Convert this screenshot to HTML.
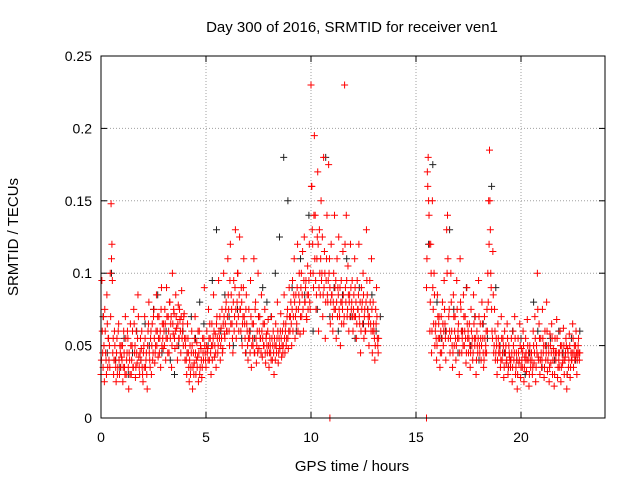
<!DOCTYPE html>
<html><head><meta charset="utf-8"><style>
body{margin:0;background:#fff}
svg{display:block}
text{font-family:"Liberation Sans",sans-serif;fill:#000}
</style></head><body>
<svg id="chart" width="640" height="480" xmlns="http://www.w3.org/2000/svg">
<text x="352" y="32" font-size="15" text-anchor="middle">Day 300 of 2016, SRMTID for receiver ven1</text>
<text x="352" y="471" font-size="15" text-anchor="middle">GPS time / hours</text>
<text transform="translate(18,237) rotate(-90)" font-size="15" text-anchor="middle">SRMTID / TECUs</text>
<g id="grid"></g>
<g id="ticks"></g>
<g id="black-series"></g>
<g id="red-series"></g>
<rect x="101" y="56" width="504" height="362" fill="none" stroke="#000" stroke-width="1"/>
</svg>
<script>
const xTicks=[0,5,10,15,20];
const yTicks=[0,0.05,0.1,0.15,0.2,0.25];
const yTickLabels=["0","0.05","0.1","0.15","0.2","0.25"];
const redAStart=0, redStep=0.04, redA2Start=0.02;
const redA=[30,95,45,70,25,60,40,85,35,55,50,100,148,120,45,30,60,40,25,55,35,65,30,45,50,
40,25,60,35,70,30,45,55,20,40,65,30,50,35,75,45,28,60,38,85,42,30,55,48,35,
25,50,70,35,45,20,60,80,40,55,30,65,45,75,38,50,85,60,42,70,55,35,90,65,48,
60,75,40,90,55,70,45,80,65,35,100,58,72,48,85,62,40,78,55,68,45,88,60,50,72,
40,55,30,65,45,25,50,35,60,20,45,38,70,30,52,42,25,60,35,48,28,55,40,90,45,
35,60,48,75,40,55,30,65,50,85,42,58,35,70,45,95,55,40,62,75,48,100,58,65,80,
60,110,75,50,120,85,65,45,95,70,130,55,80,100,60,125,75,90,50,70,110,65,45,85,60,
40,75,55,95,35,65,50,110,45,80,38,60,100,48,70,55,85,42,65,50,75,38,58,45,68,
35,55,45,70,40,60,30,50,65,45,80,38,55,48,72,42,60,50,85,45,65,55,75,48,90,
60,80,50,95,70,110,55,85,65,120,75,100,58,90,70,115,60,125,80,95,68,105,85,120,75,
230,160,120,90,195,140,75,110,170,60,130,85,150,100,70,180,115,55,95,140,80,175,110,65,120,
85,60,100,140,75,55,110,90,125,70,50,95,80,115,65,230,90,140,70,105,60,85,120,75,95,
60,85,110,70,55,95,75,120,65,45,90,80,100,55,75,60,130,85,70,50,95,65,110,45,80,
60,40,75,90,55,45];
const redA2=[40,60,35,50,75,45,30,65,55,40,35,70,110,95,55,40,50,35,45,30,60,40,50,35,42,
50,35,45,30,55,40,60,35,45,30,50,40,60,35,65,50,35,45,55,70,35,45,40,60,30,
45,35,55,40,30,50,65,45,35,60,50,40,70,55,45,60,50,70,55,45,60,75,50,55,65,
50,65,55,70,45,60,80,55,70,50,65,75,55,60,70,50,65,55,75,60,70,55,65,70,55,
50,40,45,55,35,40,30,45,50,35,30,55,45,40,35,60,45,30,50,40,35,45,55,50,40,
50,45,40,55,65,45,50,40,55,60,50,45,65,55,50,60,70,50,55,45,65,70,55,75,60,
70,85,60,95,65,75,55,80,60,90,75,65,100,70,85,75,60,80,65,90,70,55,75,65,50,
55,60,45,70,50,55,65,45,75,55,50,45,70,60,55,45,60,55,50,65,45,55,50,60,50,
45,50,40,55,50,45,55,40,50,55,60,45,50,60,55,50,45,65,55,60,50,70,55,60,70,
70,65,75,60,85,80,70,75,90,60,85,80,70,100,85,75,95,80,90,70,85,75,95,80,100,
160,130,100,140,110,95,85,125,120,90,100,110,95,125,85,90,100,80,110,85,95,100,90,80,85,
70,80,75,90,95,80,70,85,75,90,80,65,75,85,70,120,80,95,75,85,80,70,90,80,70,
75,70,90,80,65,75,85,70,80,60,75,65,85,70,60,80,95,75,65,70,80,60,75,60,65,
55,50,65,70,50,55];
const redBStart=15.5, redB2Start=15.52;
const redB=[90,170,180,140,60,120,45,150,75,100,50,65,40,85,55,70,35,60,45,80,50,95,65,40,130,
140,55,75,45,100,60,35,85,50,70,40,95,55,65,30,110,75,45,60,85,50,70,38,90,55,
45,65,35,75,50,40,85,55,70,30,60,45,95,50,65,40,80,55,35,70,45,60,75,100,150,
185,130,90,60,115,45,75,40,55,30,65,45,50,35,70,40,55,28,60,45,38,65,30,50,42,
35,55,25,60,40,70,30,45,20,55,38,65,28,48,35,60,25,42,55,32,68,40,22,50,35,
45,30,60,38,70,25,50,100,42,65,30,55,35,75,45,28,60,40,80,32,50,25,58,38,65,
30,48,22,55,40,68,28,45,35,60,25,50,38,62,30,42,55,20,48,35,58,28,45,40,65,
35,50,42,60,30,45,55,40];
const redB2=[110,160,150,120,80,100,60,90,65,85,60,55,50,70,65,55,45,70,55,65,60,75,55,60,100,
110,70,60,55,80,50,45,70,60,55,50,75,60,55,45,80,60,55,50,70,60,55,45,65,60,
55,50,45,60,55,45,65,50,55,40,50,55,70,45,55,50,65,45,40,55,50,45,60,80,120,
150,100,75,55,85,50,60,45,50,40,55,50,45,40,55,45,50,35,45,50,40,55,35,45,40,
40,45,35,50,45,55,35,40,30,45,40,50,35,40,45,50,35,40,45,40,50,45,30,40,45,
40,35,50,45,55,35,45,75,40,55,40,45,40,55,50,35,50,45,60,40,45,35,50,45,55,
40,45,30,45,45,55,35,40,45,50,35,45,40,50,40,45,50,30,45,40,50,35,40,45,55,
45,40,50,45,40,50,45,45];
const redZeroTimes=[10.9,15.5];
const blackStep=0.2, blackAStart=0.1, blackBStart=15.6;
const blackA=[70,45,100,40,35,55,30,45,60,40,65,50,75,85,45,60,40,30,50,60,45,70,55,80,65,50,95,130,60,85,70,50,75,55,45,60,55,70,90,80,70,100,125,180,150,90,60,110,85,140,60,75,95,180,70,90,60,85,110,70,55,90,65,75,85,60,70];
const blackB=[120,175,80,55,60,130,75,45,60,90,50,70,40,65,55,160,90,50,45,35,60,40,55,30,45,80,60,35,50,55,40,60,45,30,55,40,60];

const X0=101,X1=605,Y0=418,Y1=56,XMAX=24,YMAX=0.25;
const xs=t=>X0+(t/XMAX)*(X1-X0);
const ys=v=>Y0-(v/YMAX)*(Y0-Y1);
const NS="http://www.w3.org/2000/svg";
function mk(tag,attrs,parent){const e=document.createElementNS(NS,tag);for(const k in attrs)e.setAttribute(k,attrs[k]);parent.appendChild(e);return e;}
const grid=document.getElementById('grid'),ticks=document.getElementById('ticks');
xTicks.forEach(t=>{const x=xs(t);
 if(t>0){const g=mk('line',{x1:x,x2:x,y1:Y0,y2:Y1,stroke:'#a0a0a0','stroke-dasharray':'1,2'},grid);
 
 }
 mk('line',{x1:x,x2:x,y1:Y0,y2:Y0-6,stroke:'#000'},ticks);
 mk('line',{x1:x,x2:x,y1:Y1,y2:Y1+6,stroke:'#000'},ticks);
 const l=mk('text',{x:x,y:Y0+24,'font-size':14,'text-anchor':'middle'},ticks);l.textContent=t;
 
 
});
yTicks.forEach((v,i)=>{const y=ys(v);
 if(i>0&&i<yTicks.length-1){const g=mk('line',{x1:X0,x2:X1,y1:y,y2:y,stroke:'#a0a0a0','stroke-dasharray':'1,2'},grid);
 
 }
 mk('line',{x1:X0,x2:X0+6,y1:y,y2:y,stroke:'#000'},ticks);
 mk('line',{x1:X1,x2:X1-6,y1:y,y2:y,stroke:'#000'},ticks);
 const l=mk('text',{x:X0-9,y:y+5,'font-size':14,'text-anchor':'end'},ticks);l.textContent=yTickLabels[i];
 
 
});
function plus(t,v,color,parent,name){const x=xs(t),y=ys(v);
 const p=mk('path',{d:`M${x-3.5},${y}H${x+3.5}M${x},${y-3.5}V${y+3.5}`,stroke:color,'stroke-width':1,fill:'none'},parent);
 
 
}
const bg=document.getElementById('black-series'),rg=document.getElementById('red-series');
blackA.forEach((m,i)=>plus(blackAStart+i*blackStep,m/1000,'#222',bg,'black-point'));
blackB.forEach((m,i)=>plus(blackBStart+i*blackStep,m/1000,'#222',bg,'black-point'));
redA.forEach((m,i)=>plus(redAStart+i*redStep,m/1000,'#ff0000',rg,'red-point'));
redA2.forEach((m,i)=>plus(redA2Start+i*redStep,m/1000,'#ff0000',rg,'red-point'));
redB.forEach((m,i)=>plus(redBStart+i*redStep,m/1000,'#ff0000',rg,'red-point'));
redB2.forEach((m,i)=>plus(redB2Start+i*redStep,m/1000,'#ff0000',rg,'red-point'));
redZeroTimes.forEach(t=>plus(t,0,'#ff0000',rg,'red-zero-point'));
</script>
</body></html>
